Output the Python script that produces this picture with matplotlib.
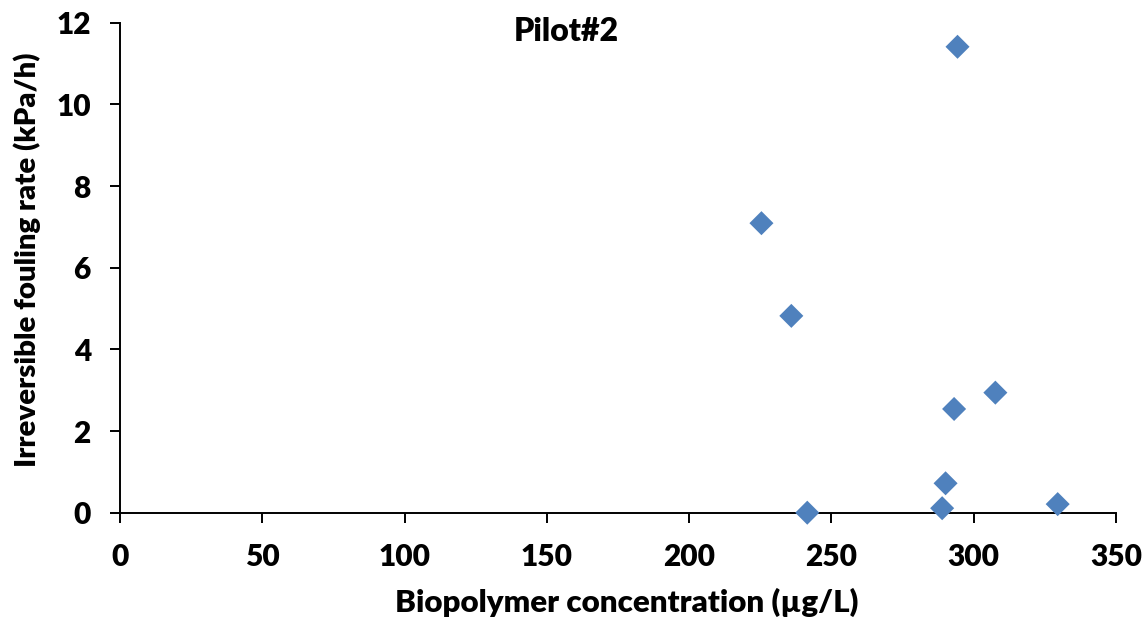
import matplotlib
matplotlib.use("Agg")
import matplotlib.pyplot as plt
from matplotlib import font_manager

# Biopolymer concentration (µg/L) and irreversible fouling rate (kPa/h)
biopolymer = [294.3, 225.4, 235.9, 241.5, 288.9, 290.1, 293.1, 307.6, 329.5]
fouling_rate = [11.41, 7.09, 4.82, 0.0, 0.11, 0.72, 2.54, 2.94, 0.21]

x_ticks = [0, 50, 100, 150, 200, 250, 300, 350]
y_ticks = [0, 2, 4, 6, 8, 10, 12]

plt.rcParams['font.family'] = ['Lato', 'DejaVu Sans']
plt.rcParams['font.weight'] = 'bold'

fig = plt.figure(figsize=(11.43, 6.18), dpi=100)
ax = fig.add_axes([0.105, 0.1704, 0.8714, 0.7929])

ax.scatter(biopolymer, fouling_rate, marker='D', s=150, color='#4F81BD',
           edgecolors='none', zorder=3, clip_on=False)

ax.set_xlim(0, 350)
ax.set_ylim(0, 12)
ax.set_xticks(x_ticks)
ax.set_yticks(y_ticks)

bold = font_manager.FontProperties(family=['Lato', 'DejaVu Sans'],
                                   weight='heavy', size=21.5)
ax.set_xticklabels([str(v) for v in x_ticks], fontproperties=bold)
ax.set_yticklabels([str(v) for v in y_ticks], fontproperties=bold)

for side in ('top', 'right'):
    ax.spines[side].set_visible(False)
for side in ('left', 'bottom'):
    ax.spines[side].set_linewidth(1.4)

ax.tick_params(axis='both', direction='out', length=7, width=1.4)
ax.tick_params(axis='x', pad=15)
ax.tick_params(axis='y', pad=14)

ax.set_xlabel('Biopolymer concentration (µg/L)', fontsize=22.5,
              fontweight='heavy', labelpad=12, x=0.509)
ax.set_ylabel('Irreversible fouling rate (kPa/h)', fontsize=21.2,
              fontweight='heavy')
ax.yaxis.set_label_coords(-0.079, 0.516)
ax.text(566 / 1143, 1 - 17 / 618, 'Pilot#2', transform=fig.transFigure,
        ha='center', va='top', fontsize=23, fontweight='heavy')

fig.savefig('out.png', dpi=100)
